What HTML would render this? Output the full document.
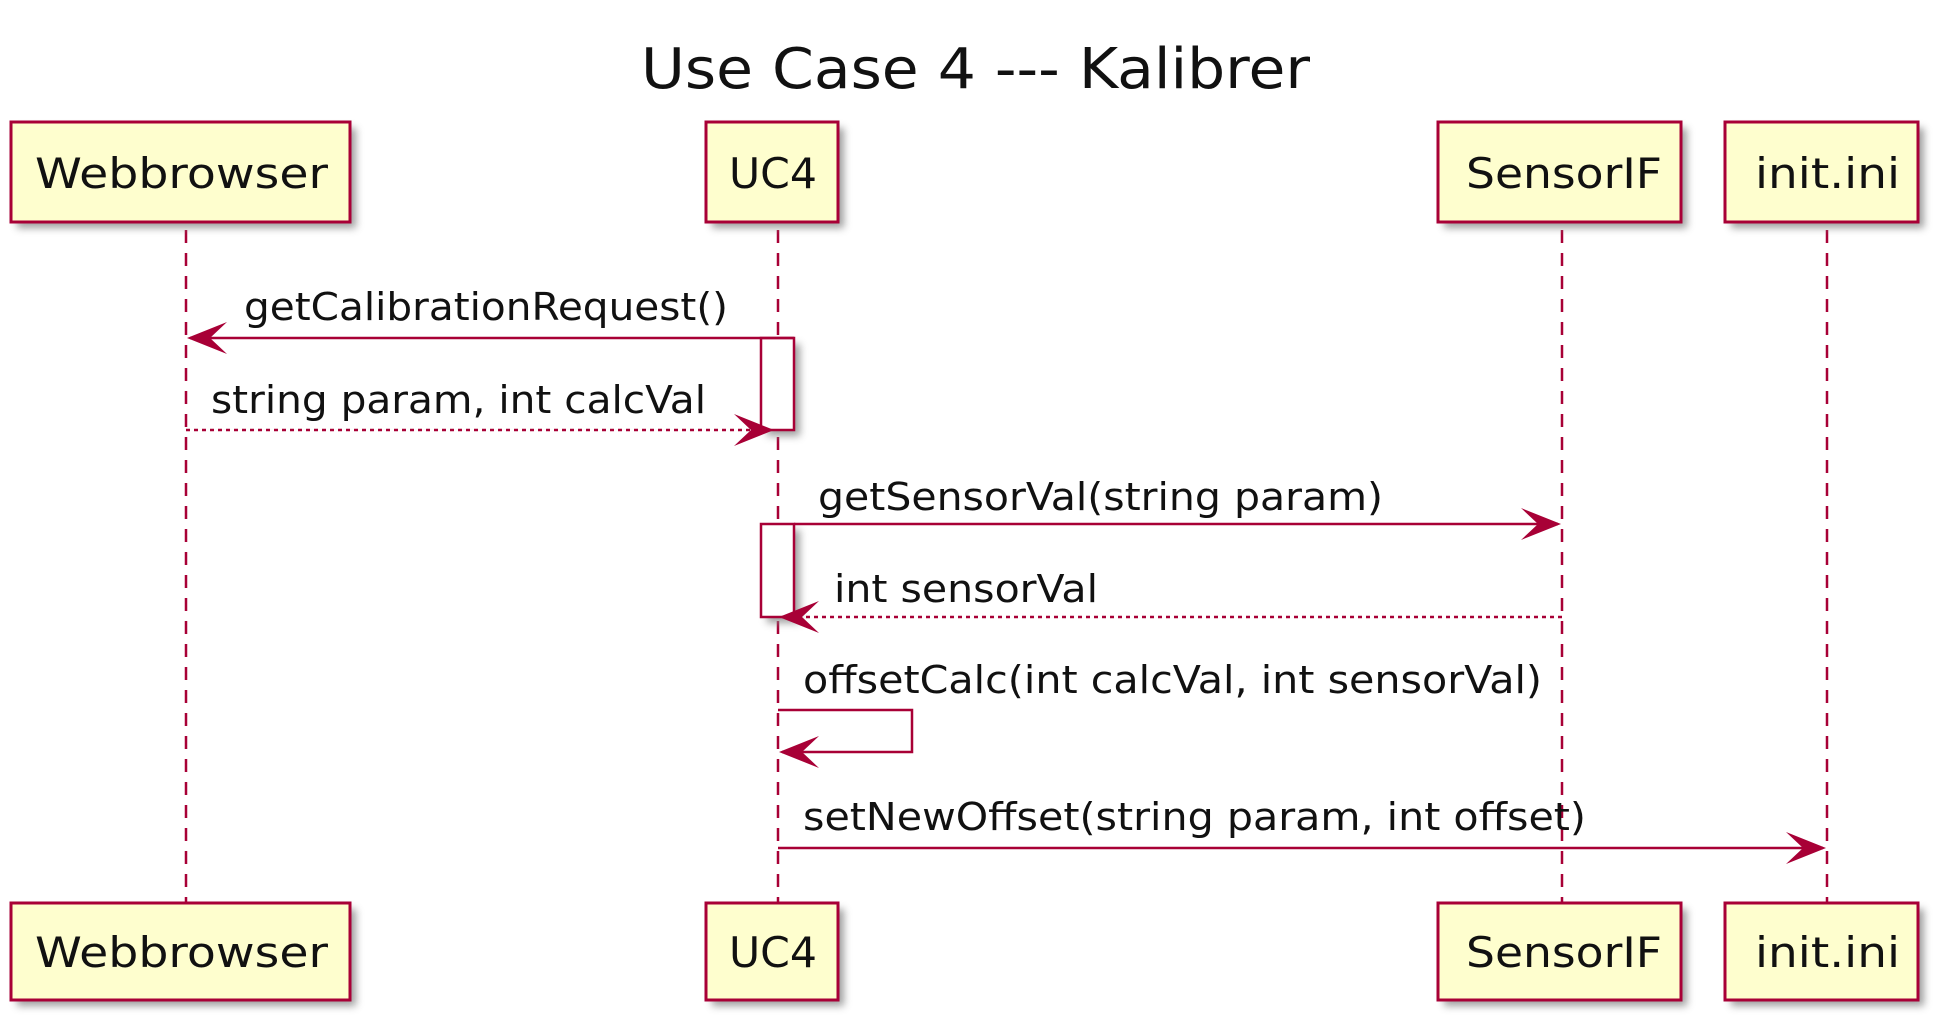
<!DOCTYPE html>
<html><head><meta charset="utf-8"><style>html,body{margin:0;padding:0;background:#fff;}svg{display:block}</style></head>
<body>
<svg width="1955" height="1030" viewBox="0 0 1955 1030" xmlns="http://www.w3.org/2000/svg" font-family="DejaVu Sans, Liberation Sans, sans-serif">
<defs>
<filter id="sh" x="-10%" y="-10%" width="130%" height="140%"><feGaussianBlur stdDeviation="4"/></filter>
</defs>
<text x="641" y="88" font-size="56" fill="#111" textLength="669" lengthAdjust="spacingAndGlyphs">Use Case 4 --- Kalibrer</text>
<g stroke="#A80036" stroke-width="2.5" stroke-dasharray="13,10">
<line x1="186" y1="230" x2="186" y2="903"/>
<line x1="778" y1="230" x2="778" y2="903"/>
<line x1="1562" y1="230" x2="1562" y2="903"/>
<line x1="1827" y1="230" x2="1827" y2="903"/>
</g>
<g fill="#888" filter="url(#sh)" opacity="0.8">
<rect x="17" y="128" width="339" height="100"/><rect x="712" y="128" width="132" height="100"/>
<rect x="1444" y="128" width="243" height="100"/><rect x="1731" y="128" width="193" height="100"/>
<rect x="17" y="909" width="339" height="97"/><rect x="712" y="909" width="132" height="97"/>
<rect x="1444" y="909" width="243" height="97"/><rect x="1731" y="909" width="193" height="97"/>
<rect x="767" y="344" width="33" height="92"/><rect x="767" y="530" width="33" height="93"/>
</g>
<g fill="#FEFECE" stroke="#A80036" stroke-width="3">
<rect x="11" y="122" width="339" height="100"/><rect x="706" y="122" width="132" height="100"/>
<rect x="1438" y="122" width="243" height="100"/><rect x="1725" y="122" width="193" height="100"/>
<rect x="11" y="903" width="339" height="97"/><rect x="706" y="903" width="132" height="97"/>
<rect x="1438" y="903" width="243" height="97"/><rect x="1725" y="903" width="193" height="97"/>
</g>
<g fill="#fff" stroke="#A80036" stroke-width="2.5">
<rect x="761" y="338" width="33" height="92"/><rect x="761" y="524" width="33" height="93"/>
</g>
<g font-size="42" fill="#111">
<text x="35" y="188" textLength="293" lengthAdjust="spacingAndGlyphs">Webbrowser</text>
<text x="729" y="188" textLength="88" lengthAdjust="spacingAndGlyphs">UC4</text>
<text x="1466" y="188" textLength="196" lengthAdjust="spacingAndGlyphs">SensorIF</text>
<text x="1755" y="188" textLength="145" lengthAdjust="spacingAndGlyphs">init.ini</text>
<text x="35" y="967" textLength="293" lengthAdjust="spacingAndGlyphs">Webbrowser</text>
<text x="729" y="967" textLength="88" lengthAdjust="spacingAndGlyphs">UC4</text>
<text x="1466" y="967" textLength="196" lengthAdjust="spacingAndGlyphs">SensorIF</text>
<text x="1755" y="967" textLength="145" lengthAdjust="spacingAndGlyphs">init.ini</text>
</g>
<g stroke="#A80036" stroke-width="2.5" fill="none">
<line x1="794" y1="338" x2="190" y2="338"/>
<line x1="186" y1="430" x2="770" y2="430" stroke-dasharray="4,4"/>
<line x1="794" y1="524" x2="1558" y2="524"/>
<line x1="1562" y1="617" x2="782" y2="617" stroke-dasharray="4,4"/>
<polyline points="778,710 912,710 912,752 782,752"/>
<line x1="778" y1="848" x2="1823" y2="848"/>
</g>
<g fill="#A80036">
<polygon points="187,338 227,322 210,338 227,354"/>
<polygon points="774,430 734,414 751,430 734,446"/>
<polygon points="1561,524 1521,508 1538,524 1521,540"/>
<polygon points="779,617 819,601 802,617 819,633"/>
<polygon points="779,752 819,736 802,752 819,768"/>
<polygon points="1826,848 1786,832 1803,848 1786,864"/>
</g>
<g font-size="38" fill="#111">
<text x="244" y="320" textLength="484" lengthAdjust="spacingAndGlyphs">getCalibrationRequest()</text>
<text x="211" y="413" textLength="495" lengthAdjust="spacingAndGlyphs">string param, int calcVal</text>
<text x="818" y="510" textLength="565" lengthAdjust="spacingAndGlyphs">getSensorVal(string param)</text>
<text x="834" y="602" textLength="264" lengthAdjust="spacingAndGlyphs">int sensorVal</text>
<text x="803" y="693" textLength="739" lengthAdjust="spacingAndGlyphs">offsetCalc(int calcVal, int sensorVal)</text>
<text x="803" y="830" textLength="783" lengthAdjust="spacingAndGlyphs">setNewOffset(string param, int offset)</text>
</g>
</svg>
</body></html>
